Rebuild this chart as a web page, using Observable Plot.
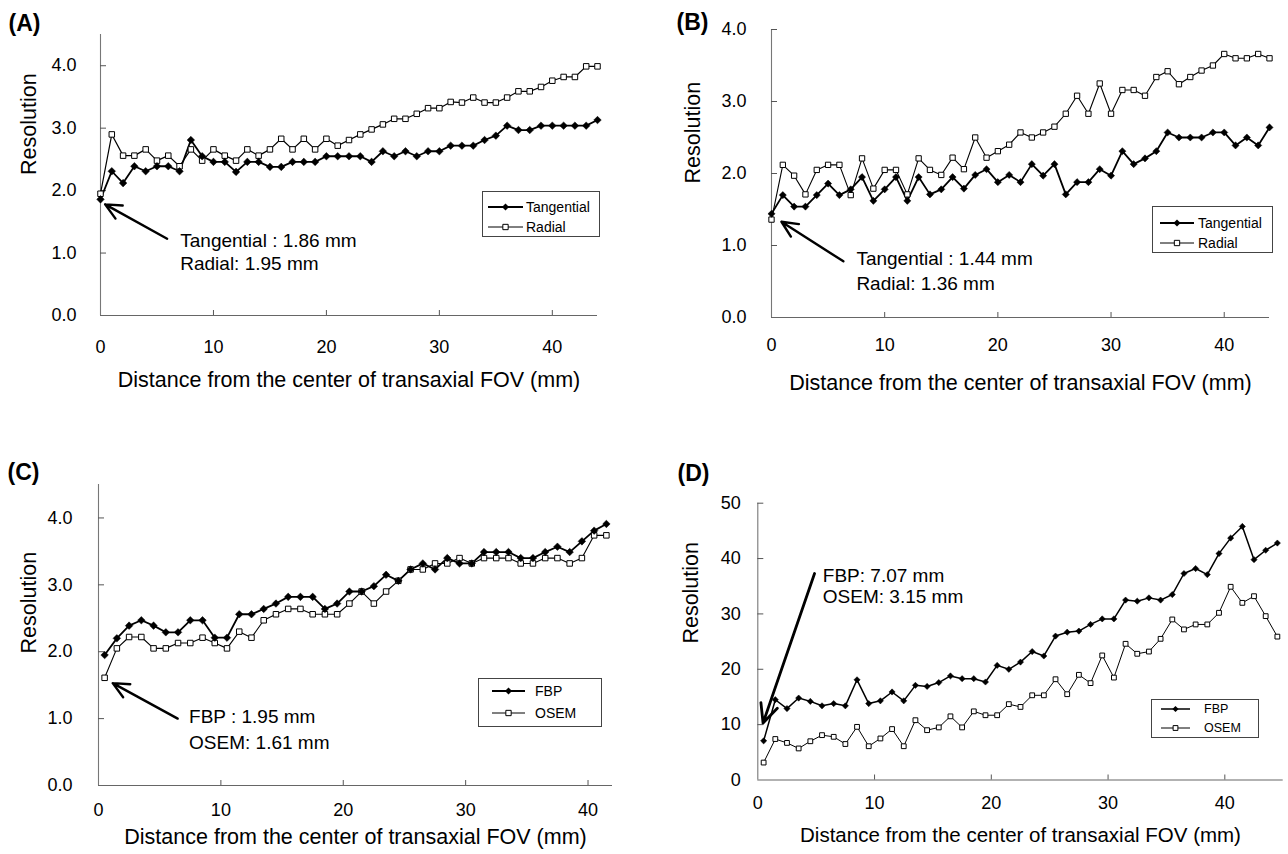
<!DOCTYPE html>
<html><head><meta charset="utf-8">
<script src="https://cdn.jsdelivr.net/npm/d3@7"></script>
<script src="https://cdn.jsdelivr.net/npm/@observablehq/plot@0.6"></script>
<style>
body{margin:0;background:#fff;}
#root{position:relative;width:1288px;height:854px;background:#fff;overflow:hidden;}
#root svg{position:absolute;overflow:visible;max-width:none;}
</style></head><body><div id="root"></div>
<script>
// ---------- data ----------
const distA = [0,1,2,3,4,5,6,7,8,9,10,11,12,13,14,15,16,17,18,19,20,21,22,23,24,25,26,27,28,29,30,31,32,33,34,35,36,37,38,39,40,41,42,43,44];
const tangA = [1.86,2.31,2.12,2.39,2.31,2.39,2.39,2.31,2.81,2.55,2.46,2.46,2.30,2.46,2.46,2.38,2.38,2.46,2.46,2.46,2.55,2.55,2.55,2.55,2.46,2.63,2.55,2.63,2.55,2.63,2.63,2.72,2.72,2.72,2.81,2.88,3.04,2.97,2.97,3.04,3.04,3.04,3.04,3.04,3.13];
const radA  = [1.95,2.90,2.56,2.56,2.66,2.48,2.56,2.39,2.66,2.48,2.66,2.56,2.48,2.66,2.56,2.66,2.83,2.66,2.83,2.66,2.83,2.72,2.81,2.90,2.98,3.06,3.15,3.15,3.23,3.32,3.32,3.42,3.41,3.49,3.41,3.41,3.49,3.59,3.59,3.66,3.76,3.82,3.82,3.99,3.99];

const distB = [0,1,2,3,4,5,6,7,8,9,10,11,12,13,14,15,16,17,18,19,20,21,22,23,24,25,26,27,28,29,30,31,32,33,34,35,36,37,38,39,40,41,42,43,44];
const tangB = [1.44,1.70,1.54,1.54,1.70,1.86,1.70,1.78,1.95,1.62,1.78,1.95,1.62,1.95,1.71,1.78,1.95,1.79,1.98,2.06,1.88,1.98,1.88,2.13,1.97,2.13,1.71,1.88,1.88,2.06,1.97,2.31,2.13,2.21,2.31,2.57,2.50,2.50,2.50,2.57,2.57,2.39,2.50,2.39,2.64];
const radB  = [1.36,2.12,1.97,1.71,2.05,2.12,2.12,1.70,2.21,1.79,2.05,2.05,1.71,2.21,2.05,1.98,2.22,2.06,2.50,2.22,2.31,2.40,2.57,2.50,2.57,2.65,2.83,3.08,2.83,3.25,2.83,3.16,3.16,3.08,3.34,3.42,3.24,3.34,3.43,3.50,3.66,3.60,3.60,3.66,3.60];

const distC = [0.5,1.5,2.5,3.5,4.5,5.5,6.5,7.5,8.5,9.5,10.5,11.5,12.5,13.5,14.5,15.5,16.5,17.5,18.5,19.5,20.5,21.5,22.5,23.5,24.5,25.5,26.5,27.5,28.5,29.5,30.5,31.5,32.5,33.5,34.5,35.5,36.5,37.5,38.5,39.5,40.5,41.5];
const fbpC  = [1.95,2.20,2.39,2.47,2.39,2.29,2.29,2.47,2.47,2.21,2.21,2.56,2.56,2.64,2.72,2.82,2.82,2.82,2.64,2.72,2.90,2.90,2.98,3.15,3.06,3.23,3.32,3.23,3.40,3.32,3.32,3.49,3.49,3.49,3.40,3.40,3.49,3.57,3.49,3.65,3.81,3.91];
const osemC = [1.61,2.05,2.22,2.22,2.05,2.05,2.13,2.13,2.21,2.13,2.05,2.30,2.21,2.47,2.56,2.64,2.64,2.56,2.56,2.56,2.72,2.90,2.72,2.90,3.06,3.23,3.23,3.32,3.32,3.40,3.32,3.40,3.40,3.40,3.32,3.32,3.40,3.40,3.32,3.40,3.74,3.74];

const distD = [0.5,1.5,2.5,3.5,4.5,5.5,6.5,7.5,8.5,9.5,10.5,11.5,12.5,13.5,14.5,15.5,16.5,17.5,18.5,19.5,20.5,21.5,22.5,23.5,24.5,25.5,26.5,27.5,28.5,29.5,30.5,31.5,32.5,33.5,34.5,35.5,36.5,37.5,38.5,39.5,40.5,41.5,42.5,43.5,44.5];
const fbpD  = [7.07,14.5,12.9,14.8,14.2,13.4,13.8,13.4,18.1,13.8,14.3,15.9,14.3,17.1,16.9,17.6,18.8,18.3,18.3,17.7,20.7,20.0,21.3,23.2,22.4,26.0,26.7,26.9,28.1,29.1,29.1,32.5,32.3,32.9,32.5,33.5,37.3,38.2,37.1,40.9,43.7,45.8,39.8,41.5,42.8];
const osemD = [3.15,7.4,6.7,5.7,7.0,8.1,7.8,6.5,9.6,6.1,7.5,9.2,6.1,10.8,9.0,9.5,11.5,9.5,12.4,11.7,11.7,13.7,13.2,15.3,15.3,18.2,15.5,19.0,17.5,22.5,18.5,24.6,22.8,23.2,25.5,29.0,27.2,28.1,28.1,30.2,34.9,32.0,33.2,29.6,25.9];

const xTicks = [0,10,20,30,40];
const yTicks4 = [0,1,2,3,4];
const yTicksD = [0,10,20,30,40,50];

const panelLabels = ["(A)","(B)","(C)","(D)"];
const xTitle = "Distance from the center of transaxial FOV (mm)";
const yTitle = "Resolution";
const seriesAB = ["Tangential","Radial"];
const seriesCD = ["FBP","OSEM"];

const annA = [{x:7.06,y:1.20,t:"Tangential : 1.86 mm"},{x:7.06,y:0.83,t:"Radial: 1.95 mm"}];
const annB = [{x:7.5,y:0.81,t:"Tangential : 1.44 mm"},{x:7.5,y:0.47,t:"Radial: 1.36 mm"}];
const annC = [{x:7.4,y:1.02,t:"FBP : 1.95 mm"},{x:7.4,y:0.64,t:"OSEM: 1.61 mm"}];
const annD = [{x:5.57,y:36.9,t:"FBP: 7.07 mm"},{x:5.57,y:33.1,t:"OSEM: 3.15 mm"}];
const arrA = [{x1:5.9,y1:1.23,x2:0.41,y2:1.78}];
const arrB = [{x1:6.35,y1:0.78,x2:0.88,y2:1.33}];
const arrC = [{x1:6.47,y1:1.0,x2:1.16,y2:1.53}];
const arrD = [{x1:4.86,y1:37.3,x2:0.45,y2:10.3}];

const FONT = '"Liberation Sans", Arial, Helvetica, sans-serif';
const root = document.getElementById("root");

function panel(p) {
  const fw = p.width - p.ml - p.mr, fh = p.height - p.mt - p.mb;
  const s1 = p.x.map((x, i) => ({x, y: p.y1[i]}));
  const s2 = p.x.map((x, i) => ({x, y: p.y2[i]}));
  const chart = Plot.plot({
    width: p.width, height: p.height,
    marginLeft: p.ml, marginRight: p.mr, marginTop: p.mt, marginBottom: p.mb,
    style: {fontFamily: FONT, color: "#000", background: "transparent", overflow: "visible"},
    x: {domain: p.xDomain},
    y: {domain: p.yDomain},
    marks: [
      Plot.ruleX([p.xDomain[0]], {stroke: "#777", strokeWidth: 1.1}),
      Plot.ruleY([p.yDomain[0]], {stroke: "#666", strokeWidth: 1.1}),
      Plot.tickX(xTicks.filter(d => d > 0), {x: d => d, insetTop: fh - 5, stroke: "#555"}),
      Plot.tickY(p.yTicks.filter(d => d > 0), {y: d => d, insetRight: fw - 6, stroke: "#555"}),
      Plot.axisX({ticks: xTicks, tickSize: 0, tickPadding: p.xPad, fontSize: p.tickFont, tickFormat: d => String(d), label: null}),
      Plot.axisY({ticks: p.yTicks, tickSize: 0, tickPadding: p.yPad, fontSize: p.tickFont, tickFormat: p.yFormat, label: null}),
      Plot.line(s2, {x: "x", y: "y", stroke: "#000", strokeWidth: p.sw2}),
      Plot.line(s1, {x: "x", y: "y", stroke: "#000", strokeWidth: p.sw1}),
      Plot.dot(s2, {x: "x", y: "y", symbol: "square", r: p.rSq, fill: "#fff", stroke: "#000", strokeWidth: 1}),
      Plot.dot(s1, {x: "x", y: "y", symbol: "diamond2", r: p.rDi, fill: "#000", stroke: "#000", strokeWidth: 0.5}),
      Plot.arrow(p.arrow, {x1: "x1", y1: "y1", x2: "x2", y2: "y2", stroke: "#000", strokeWidth: p.arrowW, headLength: 11, headAngle: 50}),
      Plot.text(p.ann, {x: "x", y: "y", text: "t", textAnchor: "start", lineAnchor: "middle", fontSize: 19, fill: "#000"}),
      Plot.text([p.label], {frameAnchor: "top-left", dx: p.labDx, dy: p.labDy, textAnchor: "start", lineAnchor: "middle", fontSize: 23, fontWeight: "bold", fill: "#000"}),
      Plot.text([xTitle], {frameAnchor: "bottom", dy: p.xtDy, lineAnchor: "middle", fontSize: p.titleFont, fill: "#000"}),
      Plot.text([yTitle], {frameAnchor: "left", dx: p.ytDx, dy: p.ytDy, rotate: -90, lineAnchor: "middle", fontSize: 21.5, fill: "#000"})
    ]
  });
  chart.style.left = p.left + "px";
  chart.style.top = p.top + "px";
  root.appendChild(chart);
}

function legend(L) {
  const svg = d3.create("svg").attr("width", L.w).attr("height", L.h)
    .style("left", L.x + "px").style("top", L.y + "px");
  svg.append("rect").attr("x", 0.5).attr("y", 0.5).attr("width", L.w - 1).attr("height", L.h - 1)
    .attr("fill", "#fff").attr("stroke", "#444").attr("stroke-width", 1);
  L.labels.forEach((lab, i) => {
    const cy = L.rows[i] - L.y;
    const x1 = L.lx1 - L.x, x2 = L.lx2 - L.x, mx = (x1 + x2) / 2;
    svg.append("line").attr("x1", x1).attr("x2", x2).attr("y1", cy).attr("y2", cy)
      .attr("stroke", "#000").attr("stroke-width", i === 0 ? L.sw1 : 1);
    if (i === 0) {
      svg.append("path").attr("d", d3.symbol(d3.symbolDiamond2, Math.PI * L.rDi * L.rDi)())
        .attr("transform", `translate(${mx},${cy})`).attr("fill", "#000");
    } else {
      svg.append("path").attr("d", d3.symbol(d3.symbolSquare, Math.PI * L.rSq * L.rSq)())
        .attr("transform", `translate(${mx},${cy})`).attr("fill", "#fff").attr("stroke", "#000");
    }
    svg.append("text").attr("x", L.tx - L.x).attr("y", cy).attr("dy", "0.35em")
      .style("font-family", FONT).style("font-size", L.font + "px").text(lab);
  });
  root.appendChild(svg.node());
}

const f1 = d3.format(".1f");

panel({left: 0, top: 0, width: 640, height: 420, ml: 100, mr: 43, mt: 34, mb: 105,
  x: distA, y1: tangA, y2: radA, xDomain: [0, 44], yDomain: [0, 4.5], yTicks: yTicks4, yFormat: f1,
  xPad: 25, yPad: 24, tickFont: 18, titleFont: 21.5, sw1: 1.8, sw2: 1.2, rDi: 3.4, rSq: 3.1, arrowW: 2.4,
  ann: annA, arrow: arrA, label: panelLabels[0], labDx: -92, labDy: -11, xtDy: 65, ytDx: -71.5, ytDy: 0});

panel({left: 640, top: 0, width: 648, height: 420, ml: 131, mr: 19, mt: 29, mb: 103,
  x: distB, y1: tangB, y2: radB, xDomain: [0, 44], yDomain: [0, 4], yTicks: yTicks4, yFormat: f1,
  xPad: 21, yPad: 25, tickFont: 18, titleFont: 21.5, sw1: 1.8, sw2: 1.1, rDi: 3.2, rSq: 3.0, arrowW: 2.4,
  ann: annB, arrow: arrB, label: panelLabels[1], labDx: -95, labDy: -7, xtDy: 66, ytDx: -78, ytDy: 10});

panel({left: 0, top: 440, width: 640, height: 414, ml: 98, mr: 28, mt: 44, mb: 69,
  x: distC, y1: fbpC, y2: osemC, xDomain: [0, 42], yDomain: [0, 4.5], yTicks: yTicks4, yFormat: f1,
  xPad: 18, yPad: 26, tickFont: 18, titleFont: 21.5, sw1: 1.8, sw2: 1.1, rDi: 3.4, rSq: 3.1, arrowW: 2.4,
  ann: annC, arrow: arrC, label: panelLabels[2], labDx: -91, labDy: -12, xtDy: 52, ytDx: -69.5, ytDy: 18.5});

panel({left: 640, top: 440, width: 648, height: 414, ml: 117.3, mr: 5.3, mt: 62.7, mb: 74.5,
  x: distD, y1: fbpD, y2: osemD, xDomain: [0, 45], yDomain: [0, 50], yTicks: yTicksD, yFormat: d => String(d),
  xPad: 16.5, yPad: 17, tickFont: 18, titleFont: 20.5, sw1: 1.5, sw2: 1.0, rDi: 2.8, rSq: 2.7, arrowW: 2.8,
  ann: annD, arrow: arrD, label: panelLabels[3], labDx: -80.3, labDy: -29.7, xtDy: 55.5, ytDx: -66.3, ytDy: 2});

legend({x: 482, y: 191, w: 118, h: 46, labels: seriesAB, rows: [207, 227], lx1: 488, lx2: 523, tx: 526, font: 14, sw1: 1.8, rDi: 3.2, rSq: 3.0});
legend({x: 1152, y: 206, w: 121, h: 47, labels: seriesAB, rows: [223, 243], lx1: 1160, lx2: 1194, tx: 1198, font: 14, sw1: 1.8, rDi: 3.2, rSq: 3.0});
legend({x: 478, y: 678, w: 124, h: 49, labels: seriesCD, rows: [691, 713], lx1: 492, lx2: 525, tx: 535, font: 14, sw1: 1.8, rDi: 3.2, rSq: 3.0});
legend({x: 1151, y: 699, w: 108, h: 39, labels: seriesCD, rows: [709, 728], lx1: 1161, lx2: 1190, tx: 1204, font: 12.5, sw1: 1.5, rDi: 2.8, rSq: 2.7});
</script></body></html>
